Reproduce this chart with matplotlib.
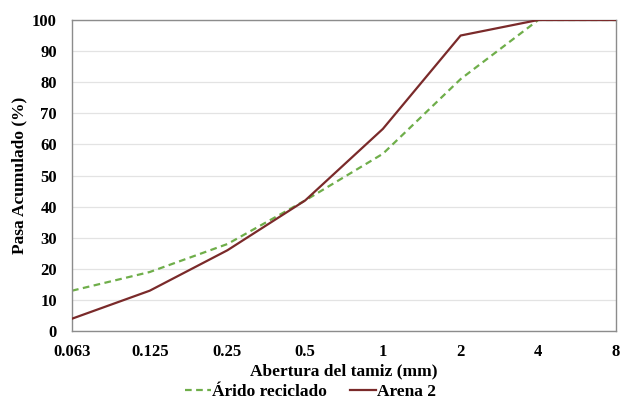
import matplotlib
matplotlib.use("Agg")
import matplotlib.pyplot as plt

sizes = ["0.063", "0.125", "0.25", "0.5", "1", "2", "4", "8"]
arido_reciclado = [13, 19, 28, 42, 57, 81, 100, 100]
arena_2 = [4, 13, 26, 42, 65, 95, 100, 100]

plt.rcParams['font.family'] = ['Liberation Serif', 'DejaVu Serif']
plt.rcParams['font.weight'] = 'bold'

fig = plt.figure(figsize=(6.21, 4.16), dpi=100)
ax = fig.add_axes([0.116, 0.204, 0.876, 0.748])
x = list(range(len(sizes)))
ax.plot(x, arido_reciclado, color='#6FAE4A', linestyle=(0, (3, 2)), linewidth=1.6, label='Árido reciclado', zorder=2)
ax.plot(x, arena_2, color='#7A2A2A', linewidth=1.6, label='Arena 2', zorder=3)

ax.set_xlim(0, len(sizes) - 1)
ax.set_ylim(0, 100)
ax.set_yticks(range(0, 101, 10))
ax.set_xticks(x)
ax.set_xticklabels(sizes)
ax.grid(axis='y', color='#E3E3E3', linewidth=0.9)
ax.set_axisbelow(True)
for s in ax.spines.values():
    s.set_color('#8C8C8C')
    s.set_linewidth(1.0)
ax.tick_params(length=0, labelsize=12)
ax.tick_params(axis='y', pad=11)
ax.tick_params(axis='x', pad=9)
for lab in ax.get_xticklabels() + ax.get_yticklabels():
    lab.set_fontweight('bold')
ax.set_xlabel('Abertura del tamiz (mm)', fontsize=12.5, fontweight='bold', labelpad=3)
ax.set_ylabel('Pasa Acumulado (%)', fontsize=12.5, fontweight='bold', labelpad=3)

leg = fig.legend(loc='center', bbox_to_anchor=(0.5, 0.058), ncol=2, frameon=False,
                 fontsize=12.5, handlelength=1.5, handletextpad=0.05, columnspacing=1.3)
for t in leg.get_texts():
    t.set_fontweight('bold')

fig.savefig('out.png', dpi=100)
